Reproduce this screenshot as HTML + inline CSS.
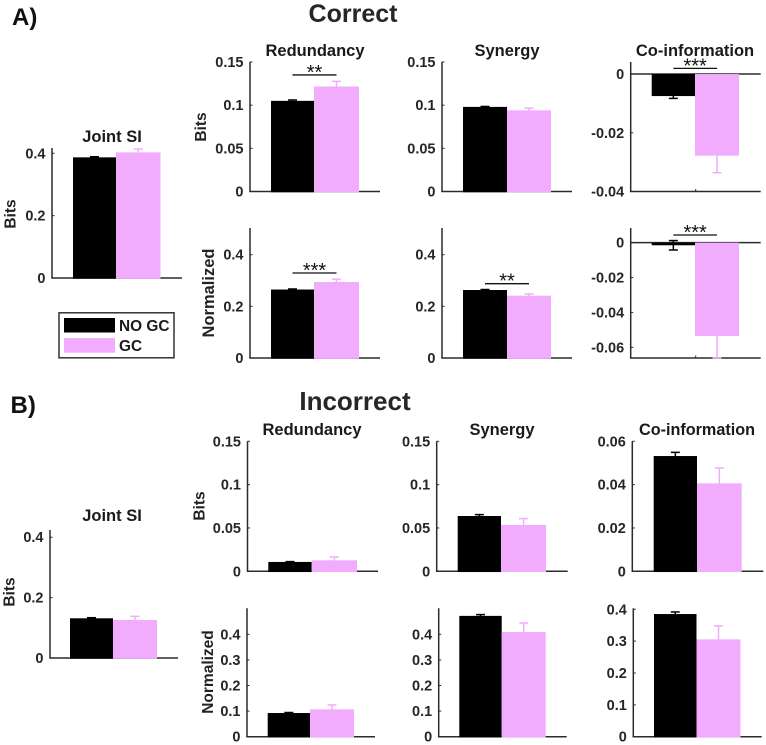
<!DOCTYPE html>
<html lang="en">
<head>
<meta charset="utf-8">
<title>Joint SI, Redundancy, Synergy and Co-information</title>
<style>
  html, body { margin: 0; padding: 0; background: #fff; }
  svg { display: block; font-family: "Liberation Sans", Arial, sans-serif; }
  .bold { font-weight: bold; fill: #222; }
  .panel-title { font-size: 16.5px; font-weight: bold; fill: #1a1a1a; text-anchor: middle; }
  .heading { font-size: 25px; font-weight: bold; fill: #262626; text-anchor: middle; }
  .letter { font-size: 24px; font-weight: bold; fill: #111; }
  .ylab { font-size: 15.5px; font-weight: bold; fill: #222; text-anchor: middle; }
  .tick-label { font-size: 14.5px; font-weight: bold; fill: #262626; text-anchor: end; }
  .stars { font-size: 20px; fill: #111; text-anchor: middle; }
  .legend-text { font-size: 15.4px; font-weight: bold; fill: #1a1a1a; }
</style>
</head>
<body>
<svg id="figure" width="766" height="745" viewBox="0 0 766 745" xmlns="http://www.w3.org/2000/svg">
  <text class="letter" x="12" y="25">A)</text>
  <text class="heading" x="353" y="22">Correct</text>
  <text class="letter" x="10.5" y="413">B)</text>
  <text class="heading" style="font-size:26px" x="355" y="410">Incorrect</text>

  <text class="panel-title" x="112" y="142">Joint SI</text>
  <text class="panel-title" x="315" y="56">Redundancy</text>
  <text class="panel-title" x="507" y="56">Synergy</text>
  <text class="panel-title" x="695" y="56">Co-information</text>
  <text class="panel-title" x="112" y="521">Joint SI</text>
  <text class="panel-title" x="312" y="435">Redundancy</text>
  <text class="panel-title" x="502" y="435">Synergy</text>
  <text class="panel-title" style="font-size:16.2px" x="697" y="435">Co-information</text>

  <text class="ylab" transform="translate(15.5,214) rotate(-90)">Bits</text>
  <text class="ylab" transform="translate(206,127) rotate(-90)">Bits</text>
  <text class="ylab" style="font-size:16.5px" transform="translate(214,293) rotate(-90)">Normalized</text>
  <text class="ylab" transform="translate(14.5,592) rotate(-90)">Bits</text>
  <text class="ylab" transform="translate(204.5,506) rotate(-90)">Bits</text>
  <text class="ylab" transform="translate(213,672) rotate(-90)">Normalized</text>

  <g>
    <rect x="59" y="312.8" width="115" height="45" fill="#fff" stroke="#333" stroke-width="1.5"/>
    <rect x="64" y="318" width="51" height="14.5" fill="#000"/>
    <text class="legend-text" x="119" y="331">NO GC</text>
    <rect x="64" y="338" width="51" height="14.7" fill="#f1acfd"/>
    <text class="legend-text" x="119" y="351">GC</text>
  </g>
  <g id="panels"></g>
</svg>
<script>
// ---- chart data: [NO GC, GC] ----
const conditions = ['NO GC', 'GC'];

const aJointValues = [0.387, 0.403];
const aJointErrors = [0.002, 0.011];
const aJointTicks = [0, 0.2, 0.4];

const aRedundancyValues = [0.105, 0.1216];
const aRedundancyErrors = [0.001, 0.006];
const aRedundancyTicks = [0, 0.05, 0.1, 0.15];

const aSynergyValues = [0.098, 0.094];
const aSynergyErrors = [0.0005, 0.0025];
const aSynergyTicks = [0, 0.05, 0.1, 0.15];

const aCoinfoValues = [-0.0075, -0.0278];
const aCoinfoErrors = [0.0008, 0.0058];
const aCoinfoTicks = [-0.04, -0.02, 0];

const aRedundancyNormValues = [0.265, 0.294];
const aRedundancyNormErrors = [0.002, 0.011];
const aRedundancyNormTicks = [0, 0.2, 0.4];

const aSynergyNormValues = [0.263, 0.241];
const aSynergyNormErrors = [0.002, 0.007];
const aSynergyNormTicks = [0, 0.2, 0.4];

const aCoinfoNormValues = [-0.0015, -0.0535];
const aCoinfoNormErrors = [0.0027, 0.02];
const aCoinfoNormTicks = [-0.06, -0.04, -0.02, 0];

const bJointValues = [0.1315, 0.126];
const bJointErrors = [0.002, 0.012];
const bJointTicks = [0, 0.2, 0.4];

const bRedundancyValues = [0.0108, 0.0127];
const bRedundancyErrors = [0.0004, 0.0038];
const bRedundancyTicks = [0, 0.05, 0.1, 0.15];

const bSynergyValues = [0.0638, 0.0534];
const bSynergyErrors = [0.0016, 0.0074];
const bSynergyTicks = [0, 0.05, 0.1, 0.15];

const bCoinfoValues = [0.0532, 0.0406];
const bCoinfoErrors = [0.0017, 0.0071];
const bCoinfoTicks = [0, 0.02, 0.04, 0.06];

const bRedundancyNormValues = [0.0925, 0.107];
const bRedundancyNormErrors = [0.002, 0.017];
const bRedundancyNormTicks = [0, 0.1, 0.2, 0.3, 0.4];

const bSynergyNormValues = [0.472, 0.409];
const bSynergyNormErrors = [0.005, 0.035];
const bSynergyNormTicks = [0, 0.1, 0.2, 0.3, 0.4];

const bCoinfoNormValues = [0.385, 0.3055];
const bCoinfoNormErrors = [0.0065, 0.0425];
const bCoinfoNormTicks = [0, 0.1, 0.2, 0.3, 0.4];

// ---- panel wiring: data + y domain + significance ----
const panels = [
  { id: 'a-joint', values: aJointValues, errors: aJointErrors, ticks: aJointTicks, domain: [0, 0.417], box: [52, 182, 148, 278], bars: [73, 116, 160.5] },
  { id: 'a-redundancy', values: aRedundancyValues, errors: aRedundancyErrors, ticks: aRedundancyTicks, domain: [0, 0.15], box: [250, 380, 62, 191.5], bars: [271, 314, 359], sig: '**', sigLevel: 0.135 },
  { id: 'a-synergy', values: aSynergyValues, errors: aSynergyErrors, ticks: aSynergyTicks, domain: [0, 0.15], box: [442, 572, 62, 191.5], bars: [463, 507, 551] },
  { id: 'a-coinformation', values: aCoinfoValues, errors: aCoinfoErrors, ticks: aCoinfoTicks, domain: [-0.04, 0.0041], box: [630.7, 760.7, 62, 191.5], bars: [651.7, 695, 739], sig: '***', sigLevel: 0.00194, zero: true },
  { id: 'a-redundancy-normalized', values: aRedundancyNormValues, errors: aRedundancyNormErrors, ticks: aRedundancyNormTicks, domain: [0, 0.503], box: [250, 380, 228, 358], bars: [271, 314, 359], sig: '***', sigLevel: 0.329 },
  { id: 'a-synergy-normalized', values: aSynergyNormValues, errors: aSynergyNormErrors, ticks: aSynergyNormTicks, domain: [0, 0.503], box: [442, 572, 228, 358], bars: [463, 507, 551], sig: '**', sigLevel: 0.2876 },
  { id: 'a-coinformation-normalized', values: aCoinfoNormValues, errors: aCoinfoNormErrors, ticks: aCoinfoNormTicks, domain: [-0.0661, 0.0084], box: [630.7, 760.7, 228, 358], bars: [651.7, 695, 739], sig: '***', sigLevel: 0.0044, zero: true },
  { id: 'b-joint', values: bJointValues, errors: bJointErrors, ticks: bJointTicks, domain: [0, 0.424], box: [50, 178, 530, 658], bars: [70, 113, 157] },
  { id: 'b-redundancy', values: bRedundancyValues, errors: bRedundancyErrors, ticks: bRedundancyTicks, domain: [0, 0.15], box: [247.5, 378, 441.3, 571.3], bars: [268.3, 311.7, 357] },
  { id: 'b-synergy', values: bSynergyValues, errors: bSynergyErrors, ticks: bSynergyTicks, domain: [0, 0.15], box: [436.7, 567.7, 441.3, 571.3], bars: [457.7, 501, 546] },
  { id: 'b-coinformation', values: bCoinfoValues, errors: bCoinfoErrors, ticks: bCoinfoTicks, domain: [0, 0.06], box: [632.3, 763.3, 441.3, 571.3], bars: [653.7, 697, 741.7] },
  { id: 'b-redundancy-normalized', values: bRedundancyNormValues, errors: bRedundancyNormErrors, ticks: bRedundancyNormTicks, domain: [0, 0.5016], box: [247, 375, 608.3, 736.7], bars: [267.7, 310, 354] },
  { id: 'b-synergy-normalized', values: bSynergyNormValues, errors: bSynergyNormErrors, ticks: bSynergyNormTicks, domain: [0, 0.5016], box: [438.7, 566.7, 608.3, 736.7], bars: [459.3, 501.7, 545.7] },
  { id: 'b-coinformation-normalized', values: bCoinfoNormValues, errors: bCoinfoNormErrors, ticks: bCoinfoNormTicks, domain: [0, 0.403], box: [633.3, 761.7, 608.3, 736.7], bars: [654, 696.5, 740.5] }
];

const SVG_NS = 'http://www.w3.org/2000/svg';
const AXIS_COLOR = '#2b2b2b';
const BAR_COLORS = ['#000000', '#f1acfd'];

function make(tag, attrs, parent) {
  const node = document.createElementNS(SVG_NS, tag);
  for (const key in attrs) node.setAttribute(key, attrs[key]);
  parent.appendChild(node);
  return node;
}

function yScaleFor(panel) {
  const [dMin, dMax] = panel.domain;
  const [, , top, bottom] = panel.box;
  return v => bottom - (v - dMin) / (dMax - dMin) * (bottom - top);
}

function drawPanel(panel, root) {
  const [left, right, top, bottom] = panel.box;
  const y = yScaleFor(panel);
  const [dMin, dMax] = panel.domain;

  const group = make('g', {}, root);
  
  

  const yAxis = make('line', { x1: left, x2: left, y1: top, y2: bottom, stroke: AXIS_COLOR, 'stroke-width': 1.5 }, group);
  
  

  const xAxis = make('line', { x1: left - 0.75, x2: right, y1: bottom, y2: bottom, stroke: AXIS_COLOR, 'stroke-width': 1.5 }, group);
  
  

  const xTick = make('line', { x1: (left + right) / 2, x2: (left + right) / 2, y1: bottom, y2: bottom - 2.5, stroke: AXIS_COLOR, 'stroke-width': 1 }, group);
  
  

  if (panel.zero) {
    const zeroLine = make('line', { x1: left, x2: right, y1: y(0), y2: y(0), stroke: AXIS_COLOR, 'stroke-width': 1.5 }, group);
    
    
  }

  panel.ticks.forEach(t => {
    const tick = make('line', { x1: left, x2: left + 2.5, y1: y(t), y2: y(t), stroke: AXIS_COLOR, 'stroke-width': 1 }, group);
    
    

    const label = make('text', { class: 'tick-label', x: left - 6.5, y: y(t) + 5 }, group);
    
    
    label.textContent = String(t);
  });

  conditions.forEach((name, i) => {
    const x0 = panel.bars[i];
    const x1 = panel.bars[i + 1];
    const cx = (x0 + x1) / 2;
    const v = panel.values[i];
    const e = panel.errors[i];
    const hi = Math.min(v + e, dMax);
    const lo = Math.max(v - e, dMin);
    const color = BAR_COLORS[i];
    const key = name.toLowerCase().replace(/\s+/g, '-');

    const errLine = make('line', { x1: cx, x2: cx, y1: y(hi), y2: y(lo), stroke: color, 'stroke-width': 1.5 }, group);
    
    

    const capHi = make('line', { x1: cx - 4.5, x2: cx + 4.5, y1: y(hi), y2: y(hi), stroke: color, 'stroke-width': 1.5 }, group);
    
    

    const capLo = make('line', { x1: cx - 4.5, x2: cx + 4.5, y1: y(lo), y2: y(lo), stroke: color, 'stroke-width': 1.5 }, group);
    
    
  });

  conditions.forEach((name, i) => {
    const x0 = panel.bars[i];
    const x1 = panel.bars[i + 1];
    const v = panel.values[i];
    const base = panel.zero ? y(0) : bottom + 0.75;
    const yv = y(v);
    const key = name.toLowerCase().replace(/\s+/g, '-');

    const bar = make('rect', { x: x0, width: x1 - x0, y: Math.min(base, yv), height: Math.abs(base - yv), fill: BAR_COLORS[i] }, group);
    
    
  });

  if (panel.sig) {
    const cx0 = (panel.bars[0] + panel.bars[1]) / 2;
    const cx1 = (panel.bars[1] + panel.bars[2]) / 2;
    const ys = y(panel.sigLevel);

    const bracket = make('line', { x1: cx0, x2: cx1, y1: ys, y2: ys, stroke: '#111', 'stroke-width': 1.3 }, group);
    
    

    const stars = make('text', { class: 'stars', x: (cx0 + cx1) / 2, y: ys + 4 }, group);
    
    
    stars.textContent = panel.sig;
  }
}

const panelRoot = document.getElementById('panels');
panels.forEach(p => drawPanel(p, panelRoot));
</script>
</body>
</html>
